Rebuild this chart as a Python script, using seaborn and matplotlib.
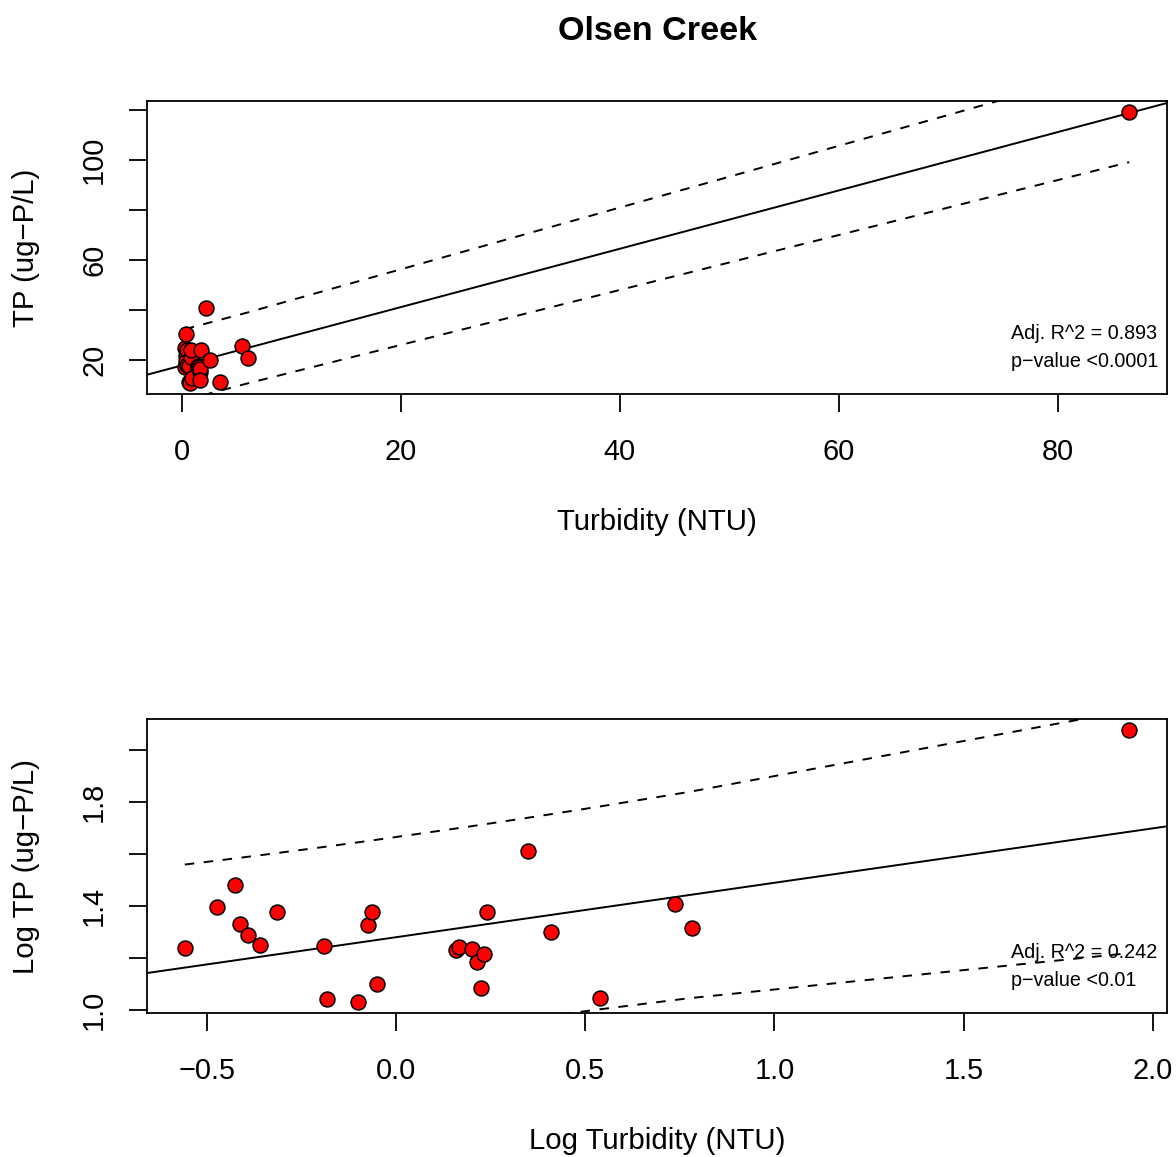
import numpy as np
import pandas as pd
import matplotlib
matplotlib.use("Agg")
import matplotlib.pyplot as plt
import seaborn as sns

# ---- data ----
turbidity = [0.277, 0.337, 0.376, 0.387, 0.406, 0.438, 0.485, 0.646, 0.658, 0.794,
             0.843, 0.865, 0.891, 1.445, 1.469, 1.592, 1.637, 1.710, 1.683, 1.742,
             2.228, 2.576, 3.467, 5.458, 6.039, 86.5]
tp = [17.3, 24.9, 30.3, 21.4, 19.4, 17.8, 23.8, 17.6, 11.0, 10.7,
      21.2, 23.8, 12.6, 17.0, 17.4, 17.2, 15.3, 16.4, 12.1, 23.8,
      40.7, 20.0, 11.1, 25.5, 20.7, 119.4]

title = "Olsen Creek"
top_xlabel = "Turbidity (NTU)"
top_ylabel = "TP (ug\u2212P/L)"
bot_xlabel = "Log Turbidity (NTU)"
bot_ylabel = "Log TP (ug\u2212P/L)"
top_stats = ["Adj. R^2 = 0.893", "p\u2212value <0.0001"]
bot_stats = ["Adj. R^2 = 0.242", "p\u2212value <0.01"]

top_xticks = [0, 20, 40, 60, 80]
top_xticklabels = ["0", "20", "40", "60", "80"]
top_yticks = [20, 40, 60, 80, 100, 120]
top_yticklabels = ["20", "", "60", "", "100", ""]
bot_xticks = [-0.5, 0.0, 0.5, 1.0, 1.5, 2.0]
bot_xticklabels = ["\u22120.5", "0.0", "0.5", "1.0", "1.5", "2.0"]
bot_yticks = [1.0, 1.2, 1.4, 1.6, 1.8, 2.0]
bot_yticklabels = ["1.0", "", "1.4", "", "1.8", ""]

T_CRIT = 2.0639  # t(0.975, df=24)

df = pd.DataFrame({"turb": turbidity, "tp": tp})
df["lturb"] = np.log10(df["turb"])
df["ltp"] = np.log10(df["tp"])

sns.set_theme(style="white")
plt.rcParams["font.family"] = ["Liberation Sans", "DejaVu Sans"]
plt.rcParams["axes.unicode_minus"] = True
plt.rcParams["text.color"] = "black"
plt.rcParams["axes.labelcolor"] = "black"
plt.rcParams["xtick.color"] = "black"
plt.rcParams["ytick.color"] = "black"

fig = plt.figure(figsize=(11.76, 11.57), dpi=100)
W, H = 1176, 1157
ax1 = fig.add_axes([147 / W, 1 - 394 / H, 1020 / W, 293 / H])
ax2 = fig.add_axes([147 / W, 1 - 1013 / H, 1020 / W, 294 / H])

FS = 20.8
LW = 1.4


def r_range(v):
    lo, hi = float(np.min(v)), float(np.max(v))
    pad = (hi - lo) * 0.04
    return lo - pad, hi + pad


def panel(ax, xcol, ycol, xticks, xtl, yticks, ytl, xlabel, ylabel, stats):
    x = df[xcol].to_numpy()
    y = df[ycol].to_numpy()
    xlim = r_range(x)
    ylim = r_range(y)
    # regression fit
    b1, b0 = np.polyfit(x, y, 1)
    n = len(x)
    resid = y - (b0 + b1 * x)
    s = np.sqrt(np.sum(resid ** 2) / (n - 2))
    xs = np.sort(x)
    se = s * np.sqrt(1 + 1 / n + (xs - x.mean()) ** 2 / np.sum((x - x.mean()) ** 2))
    fit_s = b0 + b1 * xs
    xl = np.array(xlim)
    ax.plot(xl, b0 + b1 * xl, color="black", lw=LW, zorder=2)
    ax.plot(xs, fit_s + T_CRIT * se, color="black", lw=LW, ls=(0, (4.9, 4.9)), zorder=2)
    ax.plot(xs, fit_s - T_CRIT * se, color="black", lw=LW, ls=(0, (4.9, 4.9)), zorder=2)
    sns.scatterplot(data=df, x=xcol, y=ycol, ax=ax, color="#ff0000", edgecolor="black",
                    linewidth=1.1, s=115, zorder=3, legend=False)
    ax.set_xlim(*xlim)
    ax.set_ylim(*ylim)
    ax.set_xticks(xticks)
    ax.set_xticklabels(xtl)
    ax.set_yticks(yticks)
    ax.set_yticklabels(ytl, rotation=90, va="center")
    ax.tick_params(axis="both", which="major", direction="out", length=13, width=1.3,
                   color="black", labelcolor="black", labelsize=FS, left=True, bottom=True)
    ax.tick_params(axis="x", pad=18.5)
    ax.tick_params(axis="y", pad=15)
    for sp in ax.spines.values():
        sp.set_visible(True)
        sp.set_color("black")
        sp.set_linewidth(1.3)
    ax.set_xlabel(xlabel, fontsize=FS + 0.4, color="black")
    ax.set_ylabel(ylabel, fontsize=FS + 0.4, color="black")
    ax.grid(False)
    ax.text(0.847, 0.205, stats[0], transform=ax.transAxes, fontsize=14.2,
            ha="left", va="center", color="black")
    ax.text(0.847, 0.11, stats[1], transform=ax.transAxes, fontsize=14.2,
            ha="left", va="center", color="black")


panel(ax1, "turb", "tp", top_xticks, top_xticklabels, top_yticks, top_yticklabels,
      top_xlabel, top_ylabel, top_stats)
panel(ax2, "lturb", "ltp", bot_xticks, bot_xticklabels, bot_yticks, bot_yticklabels,
      bot_xlabel, bot_ylabel, bot_stats)

ax1.xaxis.set_label_coords(0.5, (394 - 508) / 293)
ax1.yaxis.set_label_coords((40 - 147) / 1020, 0.5)
ax2.xaxis.set_label_coords(0.5, (1013 - 1127) / 294)
ax2.yaxis.set_label_coords((40 - 147) / 1020, 0.5)

fig.text(657 / W, 1 - 32 / H, title, fontsize=24.6, fontweight="bold",
         ha="center", va="center", color="black")

fig.savefig("out.png", dpi=100, facecolor="white")
